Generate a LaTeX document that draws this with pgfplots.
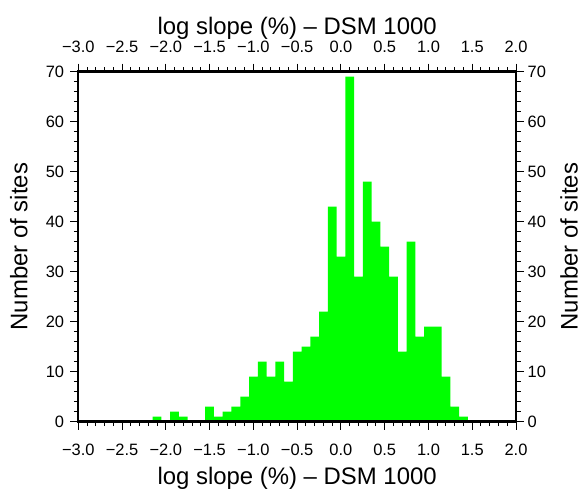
\documentclass[border=0pt]{standalone}
\usepackage{pgfplots}
\pgfplotsset{compat=1.18}
\usepackage{fontspec}
\setmainfont{Liberation Sans}
\definecolor{bargreen}{RGB}{0,255,0}
\pgfplotstableread{
x y
-2.1 1
-1.9 2
-1.8 1
-1.5 3
-1.4 1
-1.3 2
-1.2 3
-1.1 5
-1.0 9
-0.9 12
-0.8 9
-0.7 12
-0.6 8
-0.5 14
-0.4 15
-0.3 17
-0.2 22
-0.1 43
0.0 33
0.1 69
0.2 29
0.3 48
0.4 40
0.5 35
0.6 29
0.7 14
0.8 36
0.9 17
1.0 19
1.1 19
1.2 9
1.3 3
1.4 1
}\hist
\begin{document}
\begin{tikzpicture}[x=1bp,y=1bp]
\path[use as bounding box] (-78.3,-71.3) rectangle (507.7,421.7);
\pgfplotsset{
  common/.style={
    at={(0,0)}, anchor=south west, scale only axis,
    width=437.7bp, height=350bp,
    xmin=-3, xmax=2, ymin=0, ymax=70,
    xtick={-3,-2.5,-2,-1.5,-1,-0.5,0,0.5,1,1.5,2},
    xticklabels={−3.0,−2.5,−2.0,−1.5,−1.0,−0.5,0.0,0.5,1.0,1.5,2.0},
    ytick={0,10,20,30,40,50,60,70},
    yticklabels={0,10,20,30,40,50,60,70},
    minor x tick num=4, minor y tick num=4,
    tick align=outside,
    major tick length=8bp, minor tick length=4.5bp,
    every tick/.style={black, line width=1bp},
    tick label style={font=\fontsize{16.5}{18}\selectfont, inner sep=0pt},
    label style={font=\fontsize{24}{28}\selectfont, inner sep=0pt},
  }
}
\begin{axis}[common,
  axis on top,
  axis line style={line width=2.4bp},
  xticklabel shift=14bp,
  yticklabel shift=6bp,
  xlabel={log slope (\%) – DSM 1000},
  xlabel style={at={(axis description cs:0.5,-0.18)}, anchor=base},
  ylabel={Number of sites},
  ylabel style={at={(axis description cs:-0.1165,0.5)}, anchor=base},
]
\addplot[ybar, bar width=0.1, bar shift=0pt, fill=bargreen, draw=none] table {\hist};
\end{axis}
\begin{axis}[common,
  axis line style={draw=none},
  every tick/.style={draw=none},
  xticklabel pos=upper, yticklabel pos=right,
  xticklabel shift=10.4bp,
  yticklabel shift=3.5bp,
  xlabel={log slope (\%) – DSM 1000},
  xlabel style={at={(axis description cs:0.5,1.1057)}, anchor=base},
  ylabel={Number of sites},
  ylabel style={at={(axis description cs:1.1405,0.5)}, anchor=base},
]
\end{axis}
\end{tikzpicture}
\end{document}
